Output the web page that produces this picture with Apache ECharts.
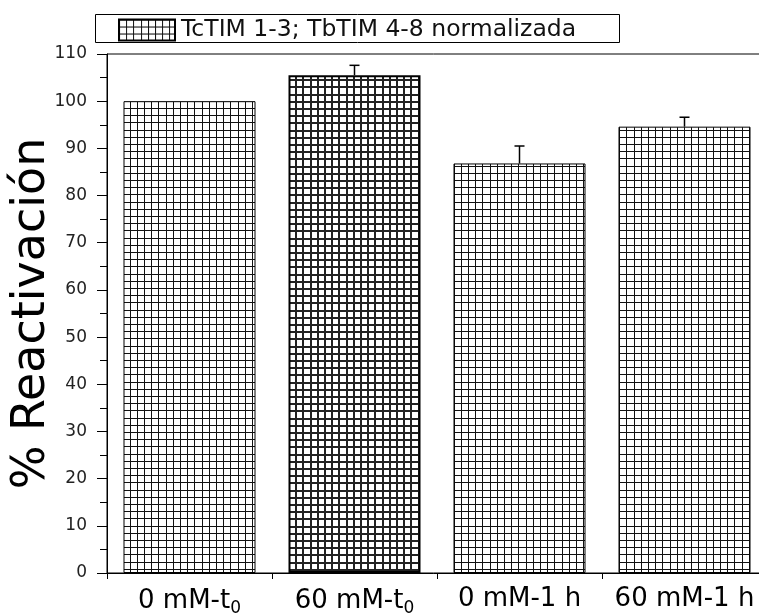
<!DOCTYPE html>
<html>
<head>
<meta charset="utf-8">
<script src="https://cdn.jsdelivr.net/npm/echarts@6/dist/echarts.min.js"></script>
<style>html,body{margin:0;padding:0;background:#fff}#c{width:759px;height:616px}</style>
</head>
<body>
<div id="c"></div>
<script>
// ---- data ----
var categories = ['0 mM-t0', '60 mM-t0', '0 mM-1 h', '60 mM-1 h'];
var values = [100, 105.5, 86.8, 94.6];
var errors = [0, 2.1, 3.7, 2.0];
var seriesName = 'TcTIM 1-3; TbTIM 4-8 normalizada';
var yTicks = [0, 10, 20, 30, 40, 50, 60, 70, 80, 90, 100, 110];

function makeGrid(lw, col) {
  var c = document.createElement('canvas');
  c.width = 36; c.height = 36;
  var g = c.getContext('2d');
  g.fillStyle = '#fff'; g.fillRect(0, 0, 36, 36);
  g.fillStyle = col;
  [0, 7, 14, 22, 29].forEach(function (p) {
    g.fillRect(p, 0, lw, 36);
    g.fillRect(0, p, 36, lw);
  });
  return { image: c, repeat: 'repeat' };
}
var thin = makeGrid(1, '#111');
var thick = makeGrid(2, '#222');

var barData = values.map(function (v, i) {
  var d = { value: v };
  if (i === 1) d.itemStyle = { color: thick, borderWidth: 2 };
  return d;
});
var errData = values.map(function (v, i) { return [i, v, errors[i]]; });

function fmtLabel(v) {
  var m = v.match(/^(.*-)t0$/);
  if (m) return m[1] + 't{sub|0}';
  return v;
}

var chart = echarts.init(document.getElementById('c'), null, { renderer: 'canvas' });
chart.setOption({
  animation: false,
  backgroundColor: '#fff',
  grid: { left: 107, top: 54, width: 660, height: 519, containLabel: false, outerBoundsMode: 'none',
          show: true, borderColor: '#000', borderWidth: 1, backgroundColor: 'transparent' },
  graphic: [{
    type: 'rect', left: 93, top: 12,
    shape: { width: 524, height: 28 },
    style: { fill: 'none', stroke: '#000', lineWidth: 1 },
    z: 10
  }],
  legend: {
    data: [seriesName],
    left: 118, top: 18, padding: 0,
    itemWidth: 56, itemHeight: 21,
    icon: 'rect',
    textStyle: { fontFamily: 'DejaVu Sans', fontSize: 23.5, color: '#111', padding: [0, 0, 0, 1] },
    selectedMode: false
  },
  xAxis: [{
    type: 'category', data: categories, position: 'bottom',
    axisLine: { lineStyle: { color: '#000', width: 1 } },
    axisTick: { alignWithLabel: true, interval: 0, length: 10, lineStyle: { color: '#000' } },
    axisLabel: {
      interval: 0, hideOverlap: false,
      margin: 13, color: '#000', fontFamily: 'DejaVu Sans', fontSize: 26,
      formatter: fmtLabel,
      rich: { sub: { fontFamily: 'DejaVu Sans', fontSize: 17, padding: [14, 0, 0, 0], color: '#000' } }
    }
  }, {
    type: 'category', data: categories, position: 'bottom',
    axisLine: { show: false },
    axisTick: { show: true, interval: 0, length: 6, lineStyle: { color: '#000' } },
    axisLabel: { show: false }
  }],
  yAxis: {
    type: 'value', min: 0, max: 110, interval: 10,
    name: '% Reactivación', nameLocation: 'middle', nameGap: 52, nameMoveOverlap: false,
    nameTextStyle: { fontFamily: 'DejaVu Sans', fontSize: 46, color: '#000' },
    axisLine: { show: true, lineStyle: { color: '#000', width: 1 } },
    axisTick: { show: true, length: 10, lineStyle: { color: '#000' } },
    minorTick: { show: true, splitNumber: 2, length: 7, lineStyle: { color: '#000' } },
    splitLine: { show: false },
    axisLabel: {
      margin: 20, color: '#222', fontFamily: 'DejaVu Sans', fontSize: 17,
      formatter: function (v) { return yTicks.indexOf(v) >= 0 ? String(v) : ''; }
    }
  },
  series: [{
    name: seriesName, type: 'bar', data: barData,
    barWidth: '80%',
    itemStyle: { color: thin, borderColor: '#000', borderWidth: 1 }
  }, {
    type: 'custom', data: errData, z: 5,
    renderItem: function (params, api) {
      var i = api.value(0), v = api.value(1), e = api.value(2);
      if (!e) return null;
      var p0 = api.coord([i, v]);
      var p1 = api.coord([i, v + e]);
      return {
        type: 'group',
        children: [
          { type: 'line', shape: { x1: p0[0], y1: p0[1], x2: p1[0], y2: p1[1] }, style: { stroke: '#000', lineWidth: 1.5 } },
          { type: 'line', shape: { x1: p1[0] - 5, y1: p1[1], x2: p1[0] + 5, y2: p1[1] }, style: { stroke: '#000', lineWidth: 1.5 } }
        ]
      };
    }
  }]
});
</script>
</body>
</html>
